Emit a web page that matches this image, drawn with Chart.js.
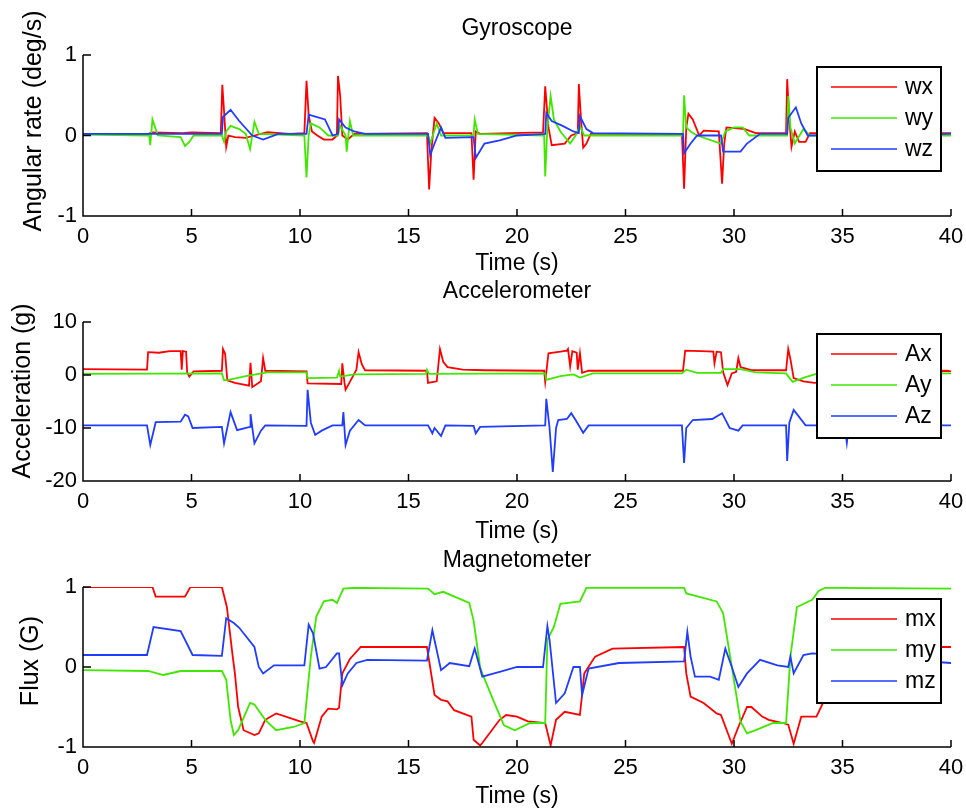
<!DOCTYPE html>
<html>
<head>
<meta charset="utf-8">
<script src="https://cdn.jsdelivr.net/npm/chart.js@4"></script>
<style>
  body { margin: 0; background: #fff; overflow: hidden; }
  #wrap { position: relative; width: 966px; height: 810px; }
  canvas { position: absolute; left: 0; }
</style>
</head>
<body>
<div id="wrap">
  <canvas id="gyro" width="966" height="278" style="top:0px"></canvas>
  <canvas id="acc" width="966" height="268" style="top:278px"></canvas>
  <canvas id="mag" width="966" height="264" style="top:546px"></canvas>
</div>
<script>
// ---- data: [time (s), value] ----
const xTicks = [0, 5, 10, 15, 20, 25, 30, 35, 40];

// Gyroscope (deg/s)
const wx = [[0,0.02],[3.0,0.02],[3.2,0.04],[4.6,0.03],[5.0,0.04],[6.35,0.03],[6.42,0.63],[6.5,0.3],[6.6,-0.14],[6.7,0.0],[7.0,-0.02],[7.5,-0.03],[7.9,0.0],[8.5,0.04],[9.5,0.02],[10.2,0.03],[10.3,0.68],[10.4,0.25],[10.55,0.05],[10.8,0.0],[11.1,-0.05],[11.5,-0.05],[11.7,0.0],[11.75,0.74],[11.85,0.5],[11.95,0.0],[12.2,-0.05],[12.5,0.02],[15.85,0.03],[15.95,-0.67],[16.05,-0.2],[16.2,0.22],[16.4,0.15],[16.6,0.03],[17.9,0.03],[18.0,-0.55],[18.1,0.05],[18.3,0.02],[21.2,0.04],[21.3,0.61],[21.45,0.1],[21.6,-0.12],[22.2,-0.1],[22.5,0.0],[22.8,0.03],[22.85,0.64],[22.95,0.2],[23.05,-0.15],[23.2,-0.1],[23.4,0.02],[27.6,0.02],[27.7,-0.66],[27.8,0.1],[27.9,0.27],[28.1,0.2],[28.4,0.0],[28.6,0.06],[29.3,0.05],[29.45,-0.6],[29.55,-0.1],[29.65,0.1],[30.5,0.08],[31.0,0.03],[32.4,0.03],[32.45,0.7],[32.55,0.2],[32.65,-0.14],[32.8,0.05],[33.0,-0.08],[33.3,-0.08],[33.5,0.03],[40,0.03]];
const wy = [[0,0.01],[3.05,0.0],[3.1,-0.12],[3.2,0.2],[3.3,0.12],[3.45,0.0],[4.5,-0.02],[4.7,-0.13],[4.9,-0.08],[5.1,0.0],[6.4,0.0],[6.5,-0.08],[6.6,0.05],[6.8,0.12],[7.2,0.08],[7.5,0.02],[7.7,-0.17],[7.9,0.17],[8.1,0.02],[10.2,0.0],[10.3,-0.52],[10.4,0.0],[10.5,0.15],[10.9,0.1],[11.3,0.0],[11.75,0.0],[11.85,0.12],[12.1,0.0],[12.15,-0.2],[12.3,0.18],[12.45,0.0],[15.9,0.0],[16.0,-0.1],[16.3,0.15],[16.5,0.0],[18.0,0.0],[18.05,0.2],[18.2,0.02],[21.25,0.0],[21.3,-0.51],[21.4,0.1],[21.55,0.49],[21.7,0.2],[22.0,0.05],[22.45,-0.1],[22.7,0.0],[22.9,0.12],[23.1,0.0],[27.65,0.0],[27.7,0.5],[27.8,0.1],[28.0,0.05],[28.3,0.0],[29.4,-0.1],[29.6,0.05],[30.0,0.1],[30.4,0.1],[30.7,0.0],[32.45,0.0],[32.5,0.49],[32.6,0.1],[32.8,-0.1],[33.2,0.08],[33.5,0.0],[40,0.0]];
const wz = [[0,0.02],[6.4,0.02],[6.45,0.23],[6.8,0.32],[7.2,0.18],[7.8,0.0],[8.3,-0.05],[9.0,0.02],[10.3,0.02],[10.4,0.26],[11.15,0.2],[11.5,0.0],[11.75,0.02],[11.8,0.2],[12.1,0.1],[12.5,0.05],[13.0,0.02],[15.9,0.02],[16.0,-0.24],[16.2,-0.1],[16.5,0.1],[16.7,-0.03],[18.0,-0.02],[18.1,-0.28],[18.5,-0.1],[19.2,-0.06],[20.0,0.0],[21.3,0.02],[21.35,0.28],[21.6,0.18],[22.1,0.12],[22.6,0.05],[22.85,0.03],[22.9,0.24],[23.2,0.08],[23.5,0.03],[27.65,0.02],[27.7,-0.22],[28.0,-0.1],[28.3,0.0],[29.4,0.0],[29.5,-0.2],[30.3,-0.2],[30.6,-0.1],[31.2,0.02],[32.45,0.02],[32.5,0.22],[32.85,0.35],[33.1,0.15],[33.4,0.0],[40,0.02]];

// Accelerometer (g)
const ax = [[0,1.1],[2.95,1.0],[3.0,4.3],[3.5,4.2],[4.0,4.5],[4.5,4.5],[4.55,1.0],[4.6,4.5],[4.75,4.4],[4.8,0.5],[4.9,-0.3],[5.1,0.7],[6.4,0.8],[6.45,4.9],[6.55,4.0],[6.65,-1.0],[7.0,-1.5],[7.65,-2.0],[7.72,2.3],[7.8,-2.3],[8.2,-1.2],[8.3,3.2],[8.4,0.8],[10.3,0.7],[10.35,-1.6],[11.9,-1.7],[11.95,2.2],[12.05,-1.5],[12.1,-2.8],[12.6,1.0],[12.7,4.3],[12.85,2.0],[13.0,0.9],[15.85,0.8],[15.9,-1.5],[16.3,-1.2],[16.45,4.9],[16.6,2.5],[16.8,1.5],[17.5,1.0],[18.5,0.9],[21.25,0.8],[21.3,-1.3],[21.45,4.1],[22.0,4.4],[22.3,4.6],[22.35,4.9],[22.45,1.6],[22.55,4.5],[22.75,4.2],[22.8,1.0],[22.9,4.1],[23.0,0.4],[23.3,0.8],[27.65,0.8],[27.75,4.6],[28.5,4.5],[29.05,4.4],[29.1,2.2],[29.2,4.4],[29.4,4.3],[29.5,0.5],[29.7,-1.9],[29.9,0.3],[30.1,0.6],[30.2,3.2],[30.3,1.5],[30.8,0.9],[32.4,0.9],[32.5,4.9],[32.6,3.0],[32.75,-0.6],[33.2,-1.2],[33.7,-1.5],[34.0,-1.4],[35,0.5],[39.8,0.8],[40,0.7]];
const ay = [[0,0.2],[6.4,0.3],[6.5,-1.0],[6.7,-0.9],[7.5,-0.2],[8.5,0.5],[10.3,0.5],[10.35,-0.6],[11.7,-0.5],[11.8,0.8],[11.85,-0.3],[12.5,0.1],[15.8,0.2],[15.85,1.0],[15.95,0.2],[21.3,0.3],[21.35,-0.9],[22.0,-0.2],[22.6,0.1],[22.9,-0.5],[23.5,0.3],[27.6,0.3],[27.8,1.0],[28.3,0.4],[29.4,0.4],[29.5,1.1],[30.3,1.1],[31.0,0.5],[32.4,0.3],[32.7,-1.3],[33.3,-0.4],[33.8,0.2],[40,0.3]];
const az = [[0,-9.5],[2.95,-9.5],[3.1,-13.2],[3.35,-8.9],[4.5,-8.8],[4.7,-7.5],[4.85,-7.8],[5.05,-10.0],[6.4,-9.8],[6.5,-12.9],[6.8,-7.0],[7.1,-10.4],[7.7,-9.8],[7.72,-7.4],[7.9,-12.9],[8.2,-10.5],[8.4,-9.5],[10.3,-9.6],[10.35,-2.8],[10.5,-9.0],[10.7,-11.3],[11.0,-10.5],[11.5,-9.5],[11.95,-9.5],[12.0,-7.0],[12.1,-13.2],[12.3,-10.5],[12.7,-8.5],[13.0,-9.5],[15.9,-9.5],[16.1,-11.0],[16.2,-10.0],[16.5,-11.5],[16.7,-9.5],[18.0,-9.6],[18.1,-11.0],[18.3,-9.8],[21.3,-9.5],[21.35,-4.5],[21.5,-10.0],[21.65,-18.3],[21.8,-10.0],[21.9,-8.5],[22.3,-8.3],[22.5,-7.2],[22.7,-8.5],[23.05,-10.9],[23.3,-9.5],[27.6,-9.5],[27.7,-16.6],[27.8,-10.0],[28.1,-8.5],[29.0,-8.3],[29.45,-7.2],[29.8,-10.0],[30.2,-10.5],[30.4,-9.5],[32.4,-9.5],[32.45,-16.2],[32.55,-9.0],[32.75,-6.6],[33.3,-9.5],[35.1,-9.5],[35.2,-12.8],[35.3,-9.5],[40,-9.5]];

// Magnetometer (G)
const mx = [[0,1.0],[3.2,1.0],[3.35,0.88],[4.7,0.88],[4.95,1.0],[6.4,1.0],[6.63,0.75],[6.9,0.13],[7.0,-0.08],[7.15,-0.5],[7.4,-0.79],[7.9,-0.85],[8.1,-0.83],[8.4,-0.66],[8.9,-0.58],[10.0,-0.68],[10.3,-0.7],[10.6,-0.93],[10.65,-0.95],[11.0,-0.62],[11.3,-0.52],[11.7,-0.53],[11.8,-0.51],[11.95,-0.08],[12.3,0.1],[12.8,0.25],[15.85,0.25],[16.2,-0.35],[16.5,-0.41],[16.8,-0.43],[17.1,-0.54],[17.9,-0.62],[18.0,-0.91],[18.3,-0.98],[18.4,-0.95],[19.2,-0.66],[19.5,-0.6],[20.0,-0.62],[20.5,-0.68],[21.3,-0.7],[21.55,-0.98],[21.8,-0.66],[22.2,-0.56],[22.9,-0.6],[23.1,-0.08],[23.6,0.13],[24.4,0.23],[27.7,0.25],[27.8,-0.08],[28.0,-0.37],[28.6,-0.45],[29.2,-0.58],[29.4,-0.6],[29.9,-0.96],[30.2,-0.75],[30.6,-0.5],[30.8,-0.5],[31.3,-0.62],[31.6,-0.66],[32.25,-0.7],[32.5,-0.72],[32.75,-0.96],[33.1,-0.62],[33.8,-0.62],[34.1,-0.45],[34.5,0.1],[35.5,0.25],[40,0.25]];
const my = [[0,-0.04],[3.0,-0.05],[3.7,-0.1],[4.5,-0.05],[6.4,-0.05],[6.6,-0.16],[6.8,-0.66],[6.95,-0.85],[7.15,-0.79],[7.7,-0.45],[7.9,-0.47],[8.4,-0.66],[8.9,-0.79],[9.7,-0.75],[10.2,-0.7],[10.5,0.13],[10.75,0.63],[11.1,0.82],[11.5,0.84],[11.7,0.8],[12.0,0.98],[12.5,0.99],[15.9,0.98],[16.2,0.91],[16.6,0.94],[17.8,0.8],[18.0,0.58],[18.3,0.0],[18.4,-0.08],[18.9,-0.41],[19.4,-0.73],[19.9,-0.79],[20.6,-0.7],[21.3,-0.7],[21.4,0.34],[21.7,0.5],[22.0,0.79],[22.9,0.82],[23.2,0.99],[27.7,0.99],[27.8,0.92],[29.2,0.82],[29.5,0.67],[29.9,0.0],[30.3,-0.68],[30.6,-0.83],[31.0,-0.79],[31.8,-0.7],[32.4,-0.7],[32.6,0.13],[32.9,0.75],[33.6,0.84],[33.9,0.95],[34.2,0.99],[40,0.98]];
const mz = [[0,0.15],[2.95,0.15],[3.25,0.5],[4.5,0.45],[5.05,0.15],[6.4,0.14],[6.6,0.61],[6.95,0.55],[7.2,0.49],[7.9,0.25],[8.1,0.0],[8.3,-0.08],[8.8,0.02],[10.2,0.02],[10.4,0.53],[10.6,0.42],[10.9,-0.02],[11.2,0.0],[11.7,0.17],[11.8,0.17],[11.95,-0.23],[12.2,-0.08],[12.6,0.05],[13.1,0.09],[15.85,0.08],[16.1,0.46],[16.5,-0.04],[16.9,0.05],[17.8,0.01],[18.05,0.23],[18.4,-0.12],[19.2,-0.06],[20.0,0.0],[21.2,0.0],[21.4,0.51],[21.5,0.34],[21.8,-0.45],[22.2,-0.33],[22.6,0.0],[22.9,0.0],[23.0,-0.35],[23.3,-0.02],[24.7,0.05],[27.7,0.07],[27.85,0.44],[28.0,0.13],[28.2,-0.12],[28.9,-0.12],[29.3,-0.16],[29.6,0.23],[29.9,0.0],[30.2,-0.25],[30.6,-0.08],[31.2,0.09],[32.0,0.02],[32.5,0.0],[32.6,0.13],[32.75,-0.08],[33.2,0.15],[33.6,0.17],[40,0.05]];

const RED = '#ff0000', GREEN = '#40e800', BLUE = '#1f3cff';
const FONT = "'Liberation Sans', Arial, sans-serif";

// inward ticks, left/bottom axis lines, y label and a boxed legend (MATLAB look)
const matlabAxes = {
  id: 'matlabAxes',
  afterDraw(chart, args, opts) {
    const { ctx, chartArea: a, scales: { x, y } } = chart;
    ctx.save();
    ctx.strokeStyle = '#000';
    ctx.lineWidth = 1.5;
    ctx.beginPath();
    ctx.moveTo(a.left, a.top);
    ctx.lineTo(a.left, a.bottom);
    ctx.lineTo(a.right, a.bottom);
    x.ticks.forEach(t => {
      const px = x.getPixelForValue(t.value);
      ctx.moveTo(px, a.bottom);
      ctx.lineTo(px, a.bottom - 7);
    });
    y.ticks.forEach(t => {
      const py = y.getPixelForValue(t.value);
      ctx.moveTo(a.left, py);
      ctx.lineTo(a.left + 8, py);
    });
    ctx.stroke();

    // y axis label
    ctx.save();
    ctx.translate(opts.yLabelPos[0], opts.yLabelPos[1]);
    ctx.rotate(-Math.PI / 2);
    ctx.fillStyle = '#000';
    ctx.font = '25px ' + FONT;
    ctx.textAlign = 'center';
    ctx.textBaseline = 'middle';
    ctx.fillText(opts.yLabel, 0, 0);
    ctx.restore();

    // legend
    const lx = a.right - 134, ly = a.top + 12, lw = 124, lh = 104;
    ctx.fillStyle = '#fff';
    ctx.fillRect(lx, ly, lw, lh);
    ctx.lineWidth = 2;
    ctx.strokeRect(lx, ly, lw, lh);
    ctx.font = '23px ' + FONT;
    ctx.textBaseline = 'middle';
    ctx.textAlign = 'left';
    opts.labels.forEach((lab, i) => {
      const yy = ly + 20 + i * 31;
      ctx.strokeStyle = opts.colors[i];
      ctx.lineWidth = 1.5;
      ctx.beginPath();
      ctx.moveTo(lx + 14, yy);
      ctx.lineTo(lx + 80, yy);
      ctx.stroke();
      ctx.fillStyle = '#000';
      ctx.fillText(lab, lx + 88, yy + 1);
    });
    ctx.restore();
  }
};

function toXY(arr) {
  return arr.map(p => ({ x: p[0], y: p[1] }));
}

function makePanel(id, cfg) {
  const colors = [RED, GREEN, BLUE];
  new Chart(document.getElementById(id), {
    type: 'line',
    data: {
      datasets: cfg.series.map((s, i) => ({
        label: cfg.labels[i],
        data: toXY(s),
        borderColor: colors[i],
        borderWidth: 1.8,
        pointRadius: 0,
        tension: 0,
        fill: false,
        order: 2 - i
      }))
    },
    options: {
      responsive: false,
      animation: false,
      layout: { padding: { left: 0, right: 15, top: 0, bottom: 0 } },
      plugins: {
        legend: { display: false },
        tooltip: { enabled: false },
        title: {
          display: true,
          text: cfg.title,
          fullSize: false,
          color: '#000',
          font: { family: FONT, size: 23, weight: 'normal' },
          padding: cfg.titlePad
        },
        matlabAxes: { labels: cfg.labels, colors: colors, yLabel: cfg.yLabel, yLabelPos: cfg.yLabelPos }
      },
      scales: {
        x: {
          type: 'linear',
          min: 0, max: 40,
          afterBuildTicks: s => { s.ticks = xTicks.map(v => ({ value: v })); },
          afterFit: s => { s.height = cfg.xHeight; s.paddingLeft = 0; s.paddingRight = 0; },
          grid: { display: false, drawTicks: false },
          border: { display: false },
          ticks: { color: '#000', padding: 8, maxRotation: 0, font: { family: FONT, size: 22 } },
          title: {
            display: true, text: 'Time (s)', color: '#000',
            font: { family: FONT, size: 23 },
            padding: { top: 0, bottom: cfg.xTitlePad }
          }
        },
        y: {
          type: 'linear',
          min: cfg.yTicks[0], max: cfg.yTicks[cfg.yTicks.length - 1],
          afterBuildTicks: s => { s.ticks = cfg.yTicks.map(v => ({ value: v })); },
          afterFit: s => { s.width = 83; },
          grid: { display: false, drawTicks: false },
          border: { display: false },
          ticks: { color: '#000', padding: 6, font: { family: FONT, size: 22 } }
        }
      }
    },
    plugins: [matlabAxes]
  });
}

makePanel('gyro', {
  title: 'Gyroscope', yLabel: 'Angular rate (deg/s)', yLabelPos: [34, 121],
  series: [wx, wy, wz], labels: ['wx', 'wy', 'wz'],
  yTicks: [-1, 0, 1],
  titlePad: { top: 14.7, bottom: 12.7 }, xHeight: 62, xTitlePad: 0.5
});
makePanel('acc', {
  title: 'Accelerometer', yLabel: 'Acceleration (g)', yLabelPos: [23, 113],
  series: [ax, ay, az], labels: ['Ax', 'Ay', 'Az'],
  yTicks: [-20, -10, 0, 10],
  titlePad: { top: 0.2, bottom: 16.2 }, xHeight: 65, xTitlePad: 0.5
});
makePanel('mag', {
  title: 'Magnetometer', yLabel: 'Flux (G)', yLabelPos: [31, 115],
  series: [mx, my, mz], labels: ['mx', 'my', 'mz'],
  yTicks: [-1, 0, 1],
  titlePad: { top: 1.2, bottom: 12.2 }, xHeight: 63, xTitlePad: 0
});
</script>
</body>
</html>
